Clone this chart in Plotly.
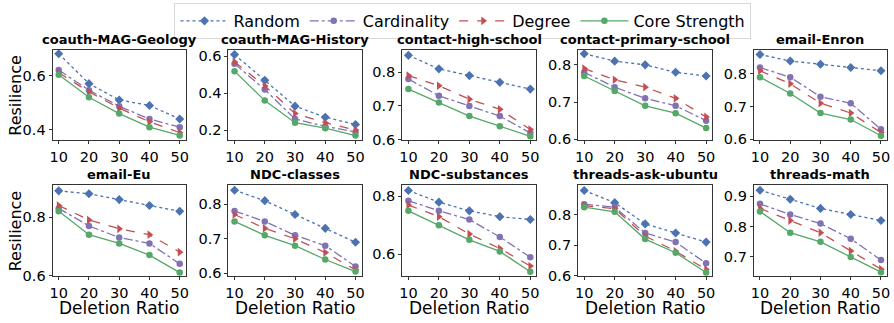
import plotly.graph_objects as go

deletion_ratio = [10, 20, 30, 40, 50]
datasets = ["coauth-MAG-Geology", "coauth-MAG-History", "contact-high-school",
            "contact-primary-school", "email-Enron", "email-Eu", "NDC-classes",
            "NDC-substances", "threads-ask-ubuntu", "threads-math"]

random_vals = [
    [0.68, 0.57, 0.51, 0.49, 0.44],
    [0.61, 0.47, 0.33, 0.27, 0.23],
    [0.85, 0.81, 0.79, 0.77, 0.75],
    [0.83, 0.81, 0.80, 0.78, 0.77],
    [0.86, 0.84, 0.83, 0.82, 0.81],
    [0.89, 0.88, 0.86, 0.84, 0.82],
    [0.84, 0.81, 0.77, 0.73, 0.69],
    [0.82, 0.78, 0.75, 0.73, 0.72],
    [0.88, 0.84, 0.77, 0.74, 0.71],
    [0.92, 0.89, 0.86, 0.84, 0.82],
]
cardinality_vals = [
    [0.62, 0.546, 0.487, 0.44, 0.41],
    [0.56, 0.42, 0.26, 0.22, 0.19],
    [0.78, 0.73, 0.70, 0.67, 0.62],
    [0.78, 0.74, 0.71, 0.69, 0.65],
    [0.82, 0.79, 0.73, 0.71, 0.63],
    [0.83, 0.77, 0.73, 0.71, 0.64],
    [0.78, 0.75, 0.71, 0.68, 0.62],
    [0.785, 0.75, 0.72, 0.66, 0.59],
    [0.835, 0.825, 0.74, 0.71, 0.64],
    [0.875, 0.84, 0.81, 0.76, 0.69],
]
degree_vals = [
    [0.61, 0.54, 0.48, 0.43, 0.39],
    [0.57, 0.44, 0.29, 0.24, 0.20],
    [0.79, 0.76, 0.72, 0.69, 0.63],
    [0.79, 0.76, 0.74, 0.71, 0.66],
    [0.81, 0.77, 0.71, 0.68, 0.62],
    [0.84, 0.79, 0.76, 0.74, 0.68],
    [0.77, 0.73, 0.70, 0.66, 0.61],
    [0.77, 0.73, 0.67, 0.62, 0.56],
    [0.83, 0.82, 0.73, 0.68, 0.62],
    [0.86, 0.82, 0.78, 0.72, 0.66],
]
core_strength_vals = [
    [0.603, 0.52, 0.46, 0.41, 0.38],
    [0.52, 0.36, 0.24, 0.21, 0.17],
    [0.75, 0.71, 0.67, 0.64, 0.61],
    [0.77, 0.73, 0.69, 0.67, 0.63],
    [0.79, 0.74, 0.68, 0.66, 0.61],
    [0.82, 0.74, 0.71, 0.67, 0.61],
    [0.75, 0.71, 0.68, 0.64, 0.605],
    [0.75, 0.70, 0.65, 0.61, 0.54],
    [0.825, 0.81, 0.72, 0.675, 0.61],
    [0.85, 0.78, 0.75, 0.70, 0.65],
]
y_ranges = [
    [0.363, 0.695], [0.146, 0.637], [0.599, 0.867], [0.598, 0.841], [0.597, 0.875],
    [0.598, 0.911], [0.592, 0.856], [0.525, 0.840], [0.598, 0.899], [0.637, 0.938],
]
y_ticks = [
    [0.4, 0.6], [0.2, 0.4, 0.6], [0.6, 0.7, 0.8], [0.6, 0.7, 0.8], [0.6, 0.7, 0.8],
    [0.6, 0.8], [0.6, 0.7, 0.8], [0.6, 0.8], [0.6, 0.7, 0.8], [0.7, 0.8, 0.9],
]

W, H = 894, 323
FONT = "DejaVu Sans"
x_px = [(50, 184), (227, 361), (402, 537), (579, 714), (756, 890)]
y_px = [(50, 143), (189, 283)]

series = [
    ("Random", random_vals, "#4C72B0", "dot", "diamond", 7),
    ("Cardinality", cardinality_vals, "#8172B3", "dashdot", "circle", 6.5),
    ("Degree", degree_vals, "#C44E52", "dash", "triangle-right", 7.5),
    ("Core Strength", core_strength_vals, "#55A868", "solid", "circle", 6.5),
]

fig = go.Figure()
annotations = []
layout = {}
for i, name in enumerate(datasets):
    r, c = divmod(i, 5)
    sfx = "" if i == 0 else str(i + 1)
    x0, x1 = x_px[c]
    y0, y1 = y_px[r]
    for (lab, vals, col, dash, sym, ms) in series:
        fig.add_trace(go.Scatter(
            x=deletion_ratio, y=vals[i], name=lab, mode="lines+markers",
            line=dict(color=col, dash=dash, width=1.3),
            marker=dict(symbol=sym, size=ms, color=col),
            xaxis="x" + sfx, yaxis="y" + sfx, showlegend=(i == 0),
        ))
    axstyle = dict(showline=True, mirror=True, linecolor="#333333", linewidth=1.2,
                   ticks="outside", ticklen=3, tickcolor="#333333", showgrid=False,
                   zeroline=False, tickfont=dict(family=FONT, size=14.5, color="black"))
    layout["xaxis" + sfx] = dict(domain=[x0 / W, x1 / W], range=[8, 52],
                                 tickvals=deletion_ratio, anchor="y" + sfx, **axstyle)
    layout["yaxis" + sfx] = dict(domain=[1 - y1 / H, 1 - y0 / H], range=y_ranges[i],
                                 tickvals=y_ticks[i], tickformat=".1f",
                                 anchor="x" + sfx, **axstyle)
    annotations.append(dict(text="<b>" + name + "</b>", x=(x0 + x1) / 2 / W,
                            y=1 - (y0 - 1) / H, xref="paper", yref="paper",
                            xanchor="center", yanchor="bottom", showarrow=False,
                            font=dict(family=FONT, size=13, color="black")))
    if c == 0:
        annotations.append(dict(text="Resilience", x=13 / W, y=1 - (y0 + y1) / 2 / H,
                                xref="paper", yref="paper", xanchor="center",
                                yanchor="middle", textangle=-90, showarrow=False,
                                font=dict(family=FONT, size=16, color="black")))
    if r == 1:
        annotations.append(dict(text="Deletion Ratio", x=(x0 + x1) / 2 / W,
                                y=0, xref="paper", yref="paper",
                                xanchor="center", yanchor="bottom", showarrow=False,
                                borderpad=0, yshift=-4,
                                font=dict(family=FONT, size=17, color="black")))

fig.update_layout(
    width=W, height=H, margin=dict(l=0, r=0, t=0, b=0),
    paper_bgcolor="white", plot_bgcolor="white",
    annotations=annotations,
    legend=dict(orientation="h", x=0.518, y=1 - 2 / H, xanchor="center", yanchor="top",
                bordercolor="#d9d9d9", borderwidth=1, bgcolor="white",
                font=dict(family=FONT, size=16, color="black"), itemwidth=48,
                tracegroupgap=0),
    **layout,
)
fig.write_html("out.html")
